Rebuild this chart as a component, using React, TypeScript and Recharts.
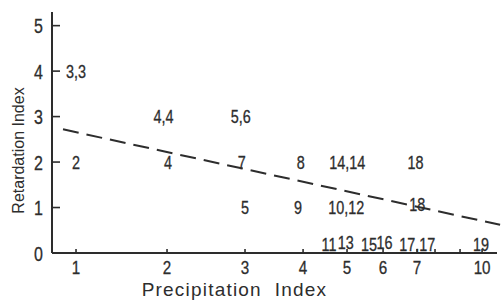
import { ComposedChart, Scatter, XAxis, YAxis, ReferenceLine } from 'recharts';

const INK = '#2d2d2d';
const FONT = '"Liberation Sans", Arial, sans-serif';

// precipitation index ticks sit on an uneven printed scale, so the axis runs in "position" units
const X_TICK_POS = [1, 2, 2.857, 3.495, 3.978, 4.374, 4.747, 4.945, 5.22, 5.462];
const X_TICK_LABELS = ['1', '2', '3', '4', '5', '6', '7', '', '', '10'];
const Y_TICKS = [0, 1, 2, 3, 4, 5];

// sample numbers printed in the plot
const POINT_X = [1, 1, 1.96, 2.81, 2.01, 2.82, 3.47, 2.857, 3.44, 3.98, 3.97, 4.73, 4.75, 3.78, 3.965, 4.22, 4.39, 4.75, 5.45];
const POINT_Y = [4, 2, 3, 3, 2, 2, 2, 1, 1, 2, 1, 2, 1.06, 0.18, 0.23, 0.18, 0.23, 0.18, 0.2];
const POINT_LABELS = ['3,3', '2', '4,4', '5,6', '4', '7', '8', '5', '9', '14,14', '10,12', '18', '18', '11', '13', '15', '16', '17,17', '19'];

// dashed regression line (end points)
const TREND = [
  { x: 0.857, y: 2.72 },
  { x: 5.66, y: 0.62 },
];

const points = POINT_X.map((x, i) => ({ x, y: POINT_Y[i], label: POINT_LABELS[i] }));

// narrow lettering, like the printed figure
function NarrowText({ x, y, size, anchor = 'middle', children }: any) {
  return (
    <text
      transform={`translate(${x} ${y}) scale(0.8 1)`}
      textAnchor={anchor}
      dominantBaseline="central"
      fontFamily={FONT}
      fontSize={size}
      fill={INK}
      stroke={INK}
      strokeWidth={0.3}
    >
      {children}
    </text>
  );
}

function LabelMark(props: any) {
  const { cx, cy, payload } = props;
  return (
    <NarrowText x={cx} y={cy} size={18}>
      {payload.label}
    </NarrowText>
  );
}

function YTick(props: any) {
  const { x, y, payload } = props;
  return (
    <g>
      <line x1={x} x2={x + 8} y1={y} y2={y} stroke={INK} strokeWidth={1.6} />
      <NarrowText x={x - 9} y={y + 1} size={20} anchor="end">
        {payload.value}
      </NarrowText>
    </g>
  );
}

function XTick(props: any) {
  const { x, y, index } = props;
  return (
    <g>
      <line x1={x} x2={x} y1={y} y2={y - 4} stroke={INK} strokeWidth={1.6} />
      <NarrowText x={x} y={y + 14} size={19}>
        {X_TICK_LABELS[index]}
      </NarrowText>
    </g>
  );
}

export default function App() {
  return (
    <div style={{ position: 'absolute', left: 0, top: 0, background: '#fff' }}>
      <ComposedChart width={502} height={300} margin={{ top: 12, right: 5, bottom: 0, left: 0 }}>
        <XAxis
          type="number"
          dataKey="x"
          domain={[0.736, 5.626]}
          ticks={X_TICK_POS}
          tick={<XTick />}
          tickLine={false}
          tickSize={0}
          tickMargin={0}
          height={47}
          interval={0}
          axisLine={{ stroke: INK, strokeWidth: 2 }}
          label={{
            content: ({ viewBox }: any) => (
              <text
                x={viewBox.x + viewBox.width / 2 - 40}
                y={viewBox.y + 43}
                textAnchor="middle"
                fontFamily={FONT}
                fontSize={19}
                letterSpacing={1.2}
                fill={INK}
                style={{ whiteSpace: 'pre' }}
              >
                {'Precipitation  Index'}
              </text>
            ),
          }}
        />
        <YAxis
          type="number"
          dataKey="y"
          domain={[0, 5.3]}
          ticks={Y_TICKS}
          tick={<YTick />}
          tickLine={false}
          tickSize={0}
          tickMargin={0}
          width={52}
          interval={0}
          axisLine={{ stroke: INK, strokeWidth: 2 }}
          label={{
            content: ({ viewBox }: any) => {
              const cy = viewBox.y + viewBox.height / 2 + 18;
              return (
                <text
                  x={18}
                  y={cy}
                  transform={`rotate(-90 18 ${cy})`}
                  textAnchor="middle"
                  dominantBaseline="central"
                  fontFamily={FONT}
                  fontSize={16}
                  fill={INK}
                >
                  Retardation Index
                </text>
              );
            },
          }}
        />
        <ReferenceLine
          segment={TREND}
          stroke={INK}
          strokeWidth={2}
          strokeDasharray="16 8"
          ifOverflow="visible"
        />
        <Scatter data={points} shape={<LabelMark />} isAnimationActive={false} />
      </ComposedChart>
    </div>
  );
}
